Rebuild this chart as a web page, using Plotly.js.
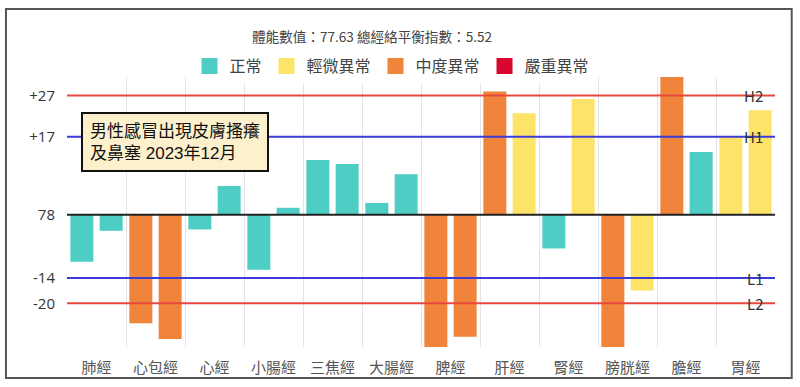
<!DOCTYPE html>
<html><head><meta charset="utf-8">
<script src="https://cdn.plot.ly/plotly-3.0.1.min.js"></script>
<style>html,body{margin:0;padding:0;background:#fff}#chart{width:800px;height:387px}</style>
</head><body><div id="chart"></div>
<script>
// Data
const categories = ['肺經','心包經','心經','小腸經','三焦經','大腸經','脾經','肝經','腎經','膀胱經','膽經','胃經'];
const leftValues  = [-10.6, -24.5, -3.3, -12.4, 12.4, 2.7, -31, 27.9, -7.6, -31, 31.2, 17.6];
const rightValues = [-3.6, -28.1, 6.55, 1.6, 11.5, 9.2, -27.6, 23, 26.2, -17.1, 14.2, 23.7];
// level: 0 正常, 1 輕微異常, 2 中度異常, 3 嚴重異常
const leftLevels  = [0, 2, 0, 0, 0, 0, 2, 2, 0, 2, 2, 1];
const rightLevels = [0, 2, 0, 0, 0, 0, 2, 1, 1, 1, 0, 1];
const levelNames = ['正常','輕微異常','中度異常','嚴重異常'];
const levelColors = ['#4ECDC4','#FDE469','#F0843A','#D7062F'];
const tickValues = [27, 17.7, 0, -14.3, -20];
const tickLabels = ['+27','+17','78','-14','-20'];
const refLines = [
  {name:'H2', value:27, color:'#E8473F'},
  {name:'H1', value:17.7, color:'#3B3BD9'},
  {name:'L1', value:-14.3, color:'#3B3BD9'},
  {name:'L2', value:-20, color:'#E8473F'}
];
const titleText = '體能數值：77.63 總經絡平衡指數：5.52';
const noteText = '男性感冒出現皮膚搔癢<br>及鼻塞 2023年12月';

const cjk = '"Noto Sans CJK TC", "Noto Sans", sans-serif';
const traces = [
  {type:'bar', x:categories, y:leftValues, marker:{color:leftLevels.map(l=>levelColors[l])}, showlegend:false, hoverinfo:'x+y'},
  {type:'bar', x:categories, y:rightValues, marker:{color:rightLevels.map(l=>levelColors[l])}, showlegend:false, hoverinfo:'x+y'}
];
levelNames.forEach((n,i)=>traces.push({type:'scatter', mode:'markers', x:[null], y:[null], name:n,
  marker:{symbol:'square', size:16, color:levelColors[i]}}));

const shapes = refLines.map(r=>({type:'line', xref:'paper', x0:0, x1:1, yref:'y', y0:r.value, y1:r.value, line:{color:r.color, width:2}}));
shapes.push({type:'line', xref:'paper', x0:0, x1:1, yref:'y', y0:0, y1:0, line:{color:'#222', width:2}});
shapes.push({type:'rect', xref:'paper', yref:'paper', x0:-0.0862, x1:1.0236, y0:-0.1148, y1:1.2519, line:{color:'#555', width:2}, fillcolor:'rgba(0,0,0,0)'});

const annotations = refLines.map(r=>({xref:'paper', x:0.986, xanchor:'right', yref:'y', y:r.value, yanchor:'middle', text:r.name, showarrow:false, font:{family:cjk, size:15, color:'#333'}}));
annotations.push({xref:'paper', yref:'paper', x:0.0194, y:0.870, xanchor:'left', yanchor:'top', text:noteText, showarrow:false, align:'left',
  font:{family:'"Liberation Sans", "Noto Sans CJK TC", sans-serif', size:17, color:'#111'},
  bgcolor:'#FDF0CC', bordercolor:'#111', borderwidth:2, borderpad:7});

const layout = {
  width:800, height:387,
  margin:{l:67, r:25, t:77, b:40},
  paper_bgcolor:'#fff', plot_bgcolor:'#fff',
  barmode:'group', bargap:0.007, bargroupgap:0.215,
  title:{text:titleText, x:0.465, xanchor:'center', y:1-37/387, yref:'container', yanchor:'middle', font:{family:cjk, size:13.6, color:'#444'}},
  legend:{orientation:'h', x:0.459, xanchor:'center', y:1.04, yanchor:'middle', font:{family:cjk, size:16, color:'#444'}, itemwidth:30},
  xaxis:{type:'category', tickson:'boundaries', showgrid:true, gridcolor:'#e4e4e4', gridwidth:1, ticks:'', ticklabelstandoff:10, showline:false, zeroline:false,
    tickfont:{family:cjk, size:15, color:'#555'}, fixedrange:true},
  yaxis:{range:[-29.9, 31.2], tickvals:tickValues, ticktext:tickLabels, showgrid:false, zeroline:false, showline:false, ticks:'outside', ticklen:8, tickcolor:'rgba(0,0,0,0)',
    tickfont:{family:'"Open Sans", "Noto Sans", sans-serif', size:15, color:'#333'}, fixedrange:true},
  shapes:shapes, annotations:annotations
};
Plotly.newPlot('chart', traces, layout, {displayModeBar:false, staticPlot:true});
</script></body></html>
